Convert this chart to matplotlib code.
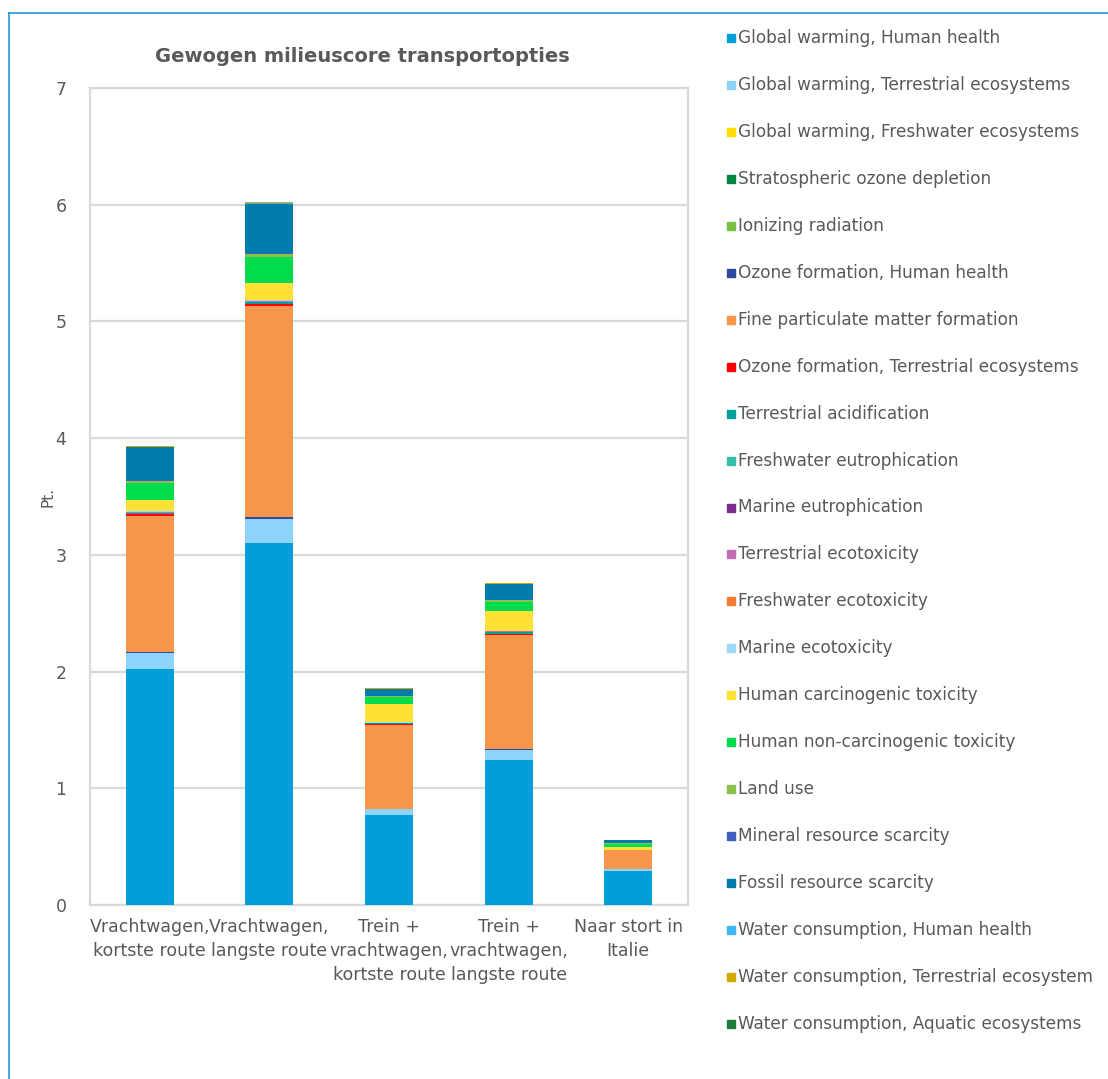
import matplotlib
matplotlib.use('Agg')
import matplotlib.pyplot as plt
from matplotlib.patches import Rectangle
from matplotlib.lines import Line2D
import numpy as np

plt.rcParams['font.family'] = ['DejaVu Sans']

# Categorieen (x-as)
categories = ['Vrachtwagen,\nkortste route', 'Vrachtwagen,\nlangste route',
              'Trein +\nvrachtwagen,\nkortste route', 'Trein +\nvrachtwagen,\nlangste route',
              'Naar stort in\nItalie']

# Impactcategorieen (volgorde = stapelvolgorde van onder naar boven)
impacts = ['Global warming, Human health', 'Global warming, Terrestrial ecosystems',
           'Global warming, Freshwater ecosystems', 'Stratospheric ozone depletion',
           'Ionizing radiation', 'Ozone formation, Human health',
           'Fine particulate matter formation', 'Ozone formation, Terrestrial ecosystems',
           'Terrestrial acidification', 'Freshwater eutrophication',
           'Marine eutrophication', 'Terrestrial ecotoxicity',
           'Freshwater ecotoxicity', 'Marine ecotoxicity',
           'Human carcinogenic toxicity', 'Human non-carcinogenic toxicity',
           'Land use', 'Mineral resource scarcity', 'Fossil resource scarcity',
           'Water consumption, Human health', 'Water consumption, Terrestrial ecosystem',
           'Water consumption, Aquatic ecosystems']

colors = ['#009FDA', '#8DD3FA', '#FFDD00', '#00873E', '#7AC143', '#2E4A9E',
          '#F7964A', '#FF0000', '#00A19A', '#35BFA9', '#7B2C8F', '#C46BB5',
          '#F47A30', '#9CD8F7', '#FFE135', '#00DC4B', '#8BC34A', '#3F5EBF',
          '#007BAE', '#40B5F5', '#D4AA00', '#1E7B3A']

# Waarden per impactcategorie (Pt.), per transportoptie
gw_hh       = [2.02, 3.10, 0.77, 1.24, 0.29]
gw_terr     = [0.14, 0.21, 0.05, 0.09, 0.02]
gw_fresh    = [0.0, 0.0, 0.0, 0.0, 0.0]
strat_ozone = [0.001, 0.001, 0.0, 0.0, 0.0]
ionizing    = [0.0, 0.0, 0.0, 0.0, 0.0]
ozone_hh    = [0.005, 0.01, 0.003, 0.005, 0.0]
fine_pm     = [1.17, 1.81, 0.72, 0.98, 0.16]
ozone_terr  = [0.01, 0.015, 0.005, 0.01, 0.002]
terr_acid   = [0.015, 0.02, 0.01, 0.015, 0.003]
fresh_eutr  = [0.0, 0.0, 0.0, 0.0, 0.0]
marine_eutr = [0.0, 0.0, 0.0, 0.0, 0.0]
terr_ecotox = [0.005, 0.01, 0.005, 0.005, 0.0]
fresh_ecotox = [0.0, 0.0, 0.0, 0.0, 0.0]
marine_ecotox = [0.01, 0.01, 0.005, 0.005, 0.0]
human_carc  = [0.09, 0.14, 0.15, 0.17, 0.02]
human_noncarc = [0.15, 0.23, 0.06, 0.08, 0.03]
land_use    = [0.02, 0.02, 0.01, 0.01, 0.01]
mineral     = [0.005, 0.01, 0.003, 0.005, 0.0]
fossil      = [0.28, 0.42, 0.06, 0.135, 0.02]
water_hh    = [0.005, 0.005, 0.003, 0.003, 0.0]
water_terr  = [0.01, 0.01, 0.006, 0.007, 0.005]
water_aq    = [0.0, 0.0, 0.0, 0.0, 0.0]

series = [gw_hh, gw_terr, gw_fresh, strat_ozone, ionizing, ozone_hh, fine_pm,
          ozone_terr, terr_acid, fresh_eutr, marine_eutr, terr_ecotox, fresh_ecotox,
          marine_ecotox, human_carc, human_noncarc, land_use, mineral, fossil,
          water_hh, water_terr, water_aq]

W, H = 1108, 1079
fig = plt.figure(figsize=(W / 100, H / 100), dpi=100)
ax = fig.add_axes([90 / W, 1 - 905 / H, (688 - 90) / W, (905 - 88) / H])

x = np.arange(len(categories))
bottom = np.zeros(len(categories))
bars = []
for vals, col, name in zip(series, colors, impacts):
    b = ax.bar(x, vals, 0.4, bottom=bottom, color=col, label=name, zorder=3)
    bars.append(b)
    bottom += np.array(vals)

ax.set_ylim(0, 7)
ax.set_xlim(-0.5, len(categories) - 0.5)
ax.set_yticks(range(0, 8))
ax.yaxis.grid(True, color='#D9D9D9', linewidth=1.6, zorder=0)
for s in ax.spines.values():
    s.set_color('#D9D9D9')
    s.set_linewidth(1.6)
ax.tick_params(axis='both', length=0, colors='#595959', labelsize=12.5)
ax.tick_params(axis='y', pad=17)
ax.set_xticks(x)
ax.set_xticklabels(categories, fontsize=12.5, color='#595959', linespacing=1.45)
ax.tick_params(axis='x', pad=9)
ax.set_ylabel('Pt.', fontsize=11, color='#595959', labelpad=0)

fig.text(362 / W, 1 - 57 / H, 'Gewogen milieuscore transportopties', ha='center', va='center',
         fontsize=14, fontweight='bold', color='#595959')

# legenda
for i, (name, col) in enumerate(zip(impacts, colors)):
    yc = 38 + i * 46.95
    fig.patches.append(Rectangle((727 / W, 1 - (yc + 4) / H), 8 / W, 8 / H,
                                 transform=fig.transFigure, color=col))
    fig.text(738 / W, 1 - yc / H, name, ha='left', va='center', fontsize=12.2, color='#595959')

# rand
fig.lines.append(Line2D([9 / W, 1], [1 - 13 / H, 1 - 13 / H], transform=fig.transFigure,
                        color='#1B9BD7', linewidth=1.2))
fig.lines.append(Line2D([9 / W, 9 / W], [0, 1 - 13 / H], transform=fig.transFigure,
                        color='#1B9BD7', linewidth=1.2))

fig.savefig('out.png', dpi=100)
